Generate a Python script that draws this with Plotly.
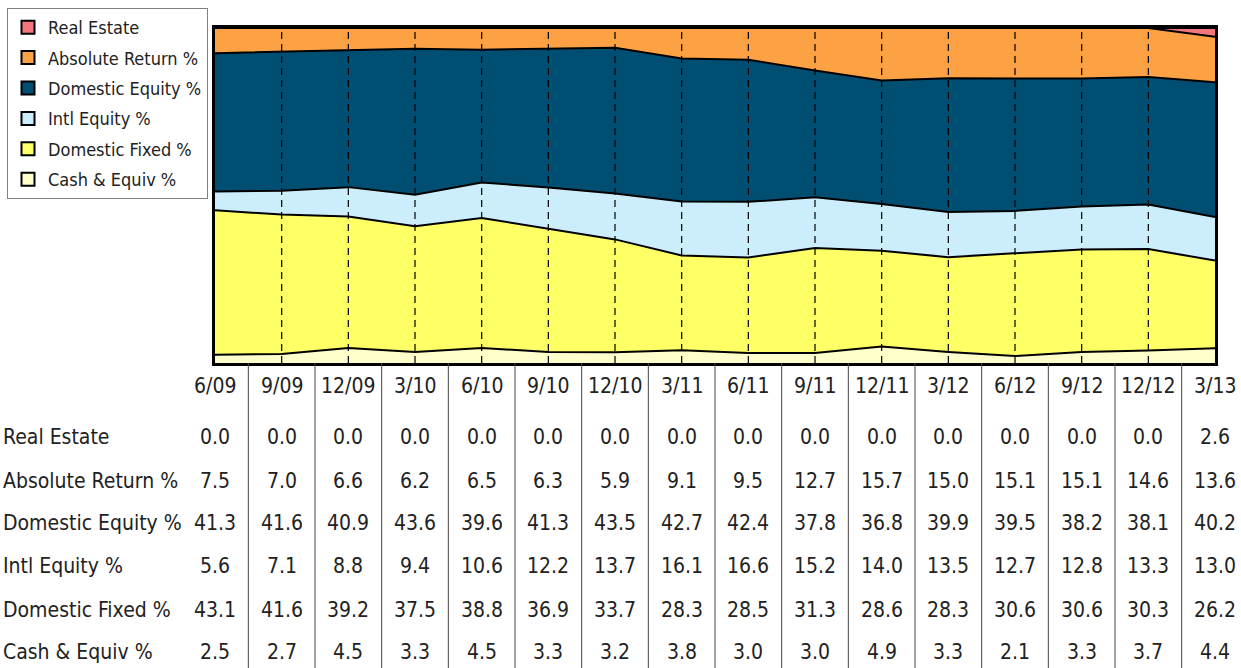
import plotly.graph_objects as go

dates = ["6/09", "9/09", "12/09", "3/10", "6/10", "9/10", "12/10", "3/11",
         "6/11", "9/11", "12/11", "3/12", "6/12", "9/12", "12/12", "3/13"]

real_estate = [0.0]*15 + [2.6]
absolute_return = [7.5, 7.0, 6.6, 6.2, 6.5, 6.3, 5.9, 9.1, 9.5, 12.7, 15.7, 15.0, 15.1, 15.1, 14.6, 13.6]
domestic_equity = [41.3, 41.6, 40.9, 43.6, 39.6, 41.3, 43.5, 42.7, 42.4, 37.8, 36.8, 39.9, 39.5, 38.2, 38.1, 40.2]
intl_equity = [5.6, 7.1, 8.8, 9.4, 10.6, 12.2, 13.7, 16.1, 16.6, 15.2, 14.0, 13.5, 12.7, 12.8, 13.3, 13.0]
domestic_fixed = [43.1, 41.6, 39.2, 37.5, 38.8, 36.9, 33.7, 28.3, 28.5, 31.3, 28.6, 28.3, 30.6, 30.6, 30.3, 26.2]
cash_equiv = [2.5, 2.7, 4.5, 3.3, 4.5, 3.3, 3.2, 3.8, 3.0, 3.0, 4.9, 3.3, 2.1, 3.3, 3.7, 4.4]

series = [
    ("Cash & Equiv %", cash_equiv, "#FFFFCC"),
    ("Domestic Fixed %", domestic_fixed, "#FFFF66"),
    ("Intl Equity %", intl_equity, "#CCEEFC"),
    ("Domestic Equity %", domestic_equity, "#004F73"),
    ("Absolute Return %", absolute_return, "#FCA244"),
    ("Real Estate", real_estate, "#F4767C"),
]

FONT = "DejaVu Sans Condensed, Roboto, sans-serif"
W, H = 1241, 668
L, R, T, B = 215, 26, 28, 305
PH = H - T - B

def py(pix):
    return (H - B - pix) / PH

def px(pix):
    return (pix - L) / (W - L - R)

xs = list(range(len(dates)))
fig = go.Figure()
for name, vals, col in series:
    fig.add_trace(go.Scatter(
        x=xs, y=vals, name=name, stackgroup="one", mode="lines",
        line=dict(color="black", width=2), fillcolor=col,
        showlegend=False, hoverinfo="x+y+name"))
for name, vals, col in reversed(series):
    fig.add_trace(go.Scatter(
        x=[None], y=[None], name=name, mode="markers", legendgroup=name,
        marker=dict(symbol="square", size=13, color=col,
                    line=dict(color="black", width=2))))

shapes = []
for i in range(1, len(dates) - 1):
    shapes.append(dict(type="line", xref="x", yref="paper", x0=i, x1=i, y0=0, y1=1,
                       line=dict(color="black", width=1.2, dash="7px,5px"), layer="above"))
for i in range(len(dates) - 1):
    shapes.append(dict(type="line", xref="x", yref="paper", x0=i + 0.5, x1=i + 0.5,
                       y0=0, y1=py(H + 5), line=dict(color="#444444", width=1)))

annotations = []
row_y = [437, 481, 523, 566, 610, 652]
for i, d in enumerate(dates):
    annotations.append(dict(x=i, y=py(386), xref="x", yref="paper", text=d,
                            showarrow=False, font=dict(family=FONT, size=21, color="#222"),
                            xanchor="center", yanchor="middle"))
table_rows = list(reversed(series))
for (name, vals, col), yy in zip(table_rows, row_y):
    annotations.append(dict(x=px(1), y=py(yy), xref="paper", yref="paper", text=name,
                            showarrow=False, font=dict(family=FONT, size=21, color="#222"),
                            xanchor="left", yanchor="middle"))
    for i, v in enumerate(vals):
        annotations.append(dict(x=i, y=py(yy), xref="x", yref="paper", text=f"{v:.1f}",
                                showarrow=False, font=dict(family=FONT, size=21, color="#222"),
                                xanchor="center", yanchor="middle"))

fig.update_layout(
    width=W, height=H,
    margin=dict(l=L, r=R, t=T, b=B, autoexpand=False),
    paper_bgcolor="white", plot_bgcolor="white",
    xaxis=dict(range=[0, 15], showgrid=False, zeroline=False, showticklabels=False,
               ticks="", showline=True, mirror=True, linecolor="black", linewidth=2.5),
    yaxis=dict(range=[0, 100], showgrid=False, zeroline=False, showticklabels=False,
               ticks="", showline=True, mirror=True, linecolor="black", linewidth=2.5),
    showlegend=True,
    legend=dict(x=px(7), y=py(8), xanchor="left", yanchor="top",
                bgcolor="white", bordercolor="#808080", borderwidth=1,
                traceorder="grouped", font=dict(family=FONT, size=18, color="#222"),
                tracegroupgap=4, itemwidth=30),
    shapes=shapes, annotations=annotations,
)

fig.write_html("out.html")
